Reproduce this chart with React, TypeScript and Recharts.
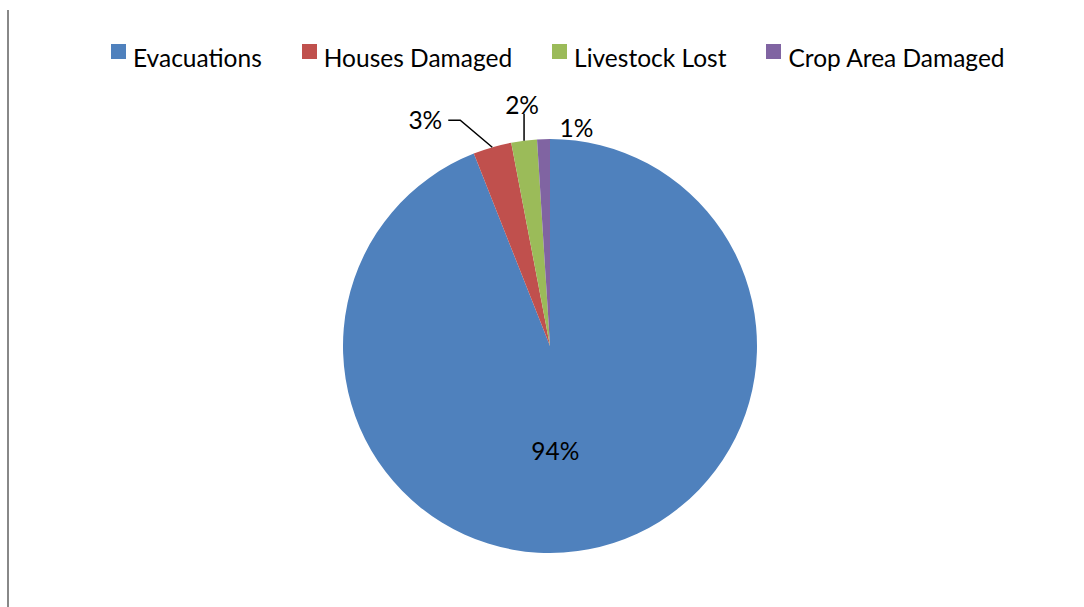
import React from 'react';
import { PieChart, Pie, Cell } from 'recharts';

const categories = ['Evacuations', 'Houses Damaged', 'Livestock Lost', 'Crop Area Damaged'];
const shares = [94, 3, 2, 1];
const labels = ['94%', '3%', '2%', '1%'];
const colors = ['#4F81BD', '#C0504D', '#9BBB59', '#8064A2'];

const data = categories.map((name, i) => ({ name, value: shares[i] }));

const FONT = 'Lato, "Open Sans", sans-serif';
const FS = 24.5;
const RAD = Math.PI / 180;

function renderLabel(props: any) {
  const { cx, cy, midAngle, outerRadius, index } = props;
  const cos = Math.cos(-midAngle * RAD);
  const sin = Math.sin(-midAngle * RAD);
  const ex = cx + outerRadius * cos;
  const ey = cy + outerRadius * sin;
  const text = labels[index];
  const common: any = { fontFamily: FONT, fontSize: FS, fill: '#000', dominantBaseline: 'central' };
  if (index === 0) {
    const x = cx + outerRadius * 0.5 * cos - 14;
    const y = cy + outerRadius * 0.5 * sin + 3;
    return (
      <text key="l0" x={x} y={y} textAnchor="middle" {...common}>{text}</text>
    );
  }
  if (index === 1) {
    return (
      <g key="l1">
        <polyline points={`${ex},${ey} ${ex - 32},${ey - 27} ${ex - 44},${ey - 27}`} fill="none" stroke="#000" strokeWidth={1.5} />
        <text x={ex - 50} y={ey - 28} textAnchor="end" {...common}>{text}</text>
      </g>
    );
  }
  if (index === 2) {
    return (
      <g key="l2">
        <line x1={ex} y1={ey} x2={ex} y2={ey - 27} stroke="#000" strokeWidth={1.5} />
        <text x={ex - 2} y={ey - 36} textAnchor="middle" {...common}>{text}</text>
      </g>
    );
  }
  return (
    <text key="l3" x={ex + 33} y={ey - 12} textAnchor="middle" {...common}>{text}</text>
  );
}

export default function App() {
  return (
    <div style={{ position: 'absolute', left: 0, top: 0, width: 1084, height: 607, background: '#fff', overflow: 'hidden' }}>
      <div style={{ position: 'absolute', left: 7, top: 10, width: 2, height: 597, background: '#888' }} />
      <div
        style={{
          position: 'absolute',
          left: 111,
          top: 40,
          display: 'flex',
          alignItems: 'center',
          fontFamily: FONT,
          fontSize: FS,
          color: '#000',
          whiteSpace: 'nowrap',
          height: 34,
        }}
      >
        {categories.map((c, i) => (
          <div key={c} style={{ display: 'flex', alignItems: 'center', marginRight: 40 }}>
            <div style={{ width: 15, height: 15, background: colors[i], marginRight: 7, marginTop: -12 }} />
            <span>{c}</span>
          </div>
        ))}
      </div>
      <div style={{ position: 'absolute', left: 0, top: 0 }}>
        <PieChart width={1084} height={607} margin={{ top: 0, right: 0, bottom: 0, left: 0 }}>
          <Pie
            data={data}
            dataKey="value"
            nameKey="name"
            cx={550}
            cy={346}
            outerRadius={207}
            startAngle={90}
            endAngle={-270}
            stroke="none"
            label={renderLabel}
            labelLine={false}
            isAnimationActive={false}
          >
            {data.map((d, i) => (
              <Cell key={d.name} fill={colors[i]} />
            ))}
          </Pie>
        </PieChart>
      </div>
    </div>
  );
}
